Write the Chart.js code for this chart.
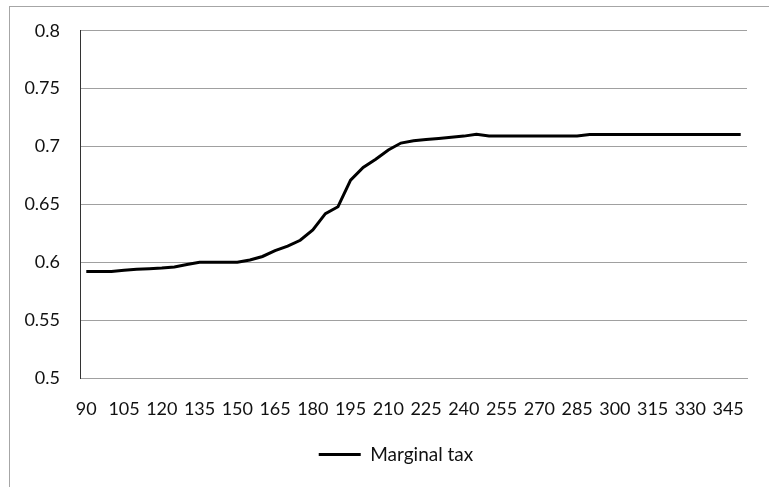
<!DOCTYPE html>
<html>
<head>
<meta charset="utf-8">
<script src="https://cdn.jsdelivr.net/npm/chart.js@4"></script>
<style>
  html, body { margin: 0; padding: 0; background: #fff; overflow: hidden; }
  #wrap { position: relative; width: 769px; height: 487px; }
  #frame { position: absolute; left: 9px; top: 6px; width: 800px; height: 600px; border: 1px solid #a6a6a6; }
  #chart { position: absolute; left: 0; top: 0; }
</style>
</head>
<body>
<div id="wrap">
  <div id="frame"></div>
  <canvas id="chart" width="769" height="487"></canvas>
</div>
<script>
// income levels, every 5 from 90 to 350
const incomes = [
  90, 95, 100, 105, 110, 115, 120, 125, 130, 135,
  140, 145, 150, 155, 160, 165, 170, 175, 180, 185,
  190, 195, 200, 205, 210, 215, 220, 225, 230, 235,
  240, 245, 250, 255, 260, 265, 270, 275, 280, 285,
  290, 295, 300, 305, 310, 315, 320, 325, 330, 335,
  340, 345, 350
];

const marginalTax = [
  0.592, 0.592, 0.592, 0.593, 0.594, 0.5945, 0.595, 0.596, 0.598, 0.600,
  0.600, 0.600, 0.600, 0.602, 0.605, 0.610, 0.614, 0.619, 0.628, 0.642,
  0.648, 0.671, 0.682, 0.689, 0.697, 0.703, 0.705, 0.706, 0.707, 0.708,
  0.709, 0.7105, 0.7092, 0.7092, 0.7092, 0.7092, 0.7092, 0.7092, 0.7092, 0.7092,
  0.7103, 0.7105, 0.7105, 0.7105, 0.7105, 0.7105, 0.7105, 0.7105, 0.7105, 0.7105,
  0.7105, 0.7105, 0.7105
];

const yTicks = [0.5, 0.55, 0.6, 0.65, 0.7, 0.75, 0.8];

const font = { family: 'Lato', size: 18 };
const textColor = '#111';
const gridColor = '#a0a0a0';

// the legend is centred under the plot area in the original, not under the whole canvas
const legendShift = {
  id: 'legendShift',
  afterLayout(chart) {
    chart.legend.left += 45;
    chart.legend.width = chart.legend.right - chart.legend.left;
  }
};

const data = {
  labels: incomes,
  datasets: [{
    label: 'Marginal tax',
    data: marginalTax,
    borderColor: '#000',
    backgroundColor: '#000',
    borderWidth: 3,
    pointRadius: 0,
    tension: 0
  }]
};

const config = {
  type: 'line',
  data: data,
  plugins: [legendShift],
  options: {
    responsive: false,
    animation: false,
    layout: { padding: { top: 29, right: 22, bottom: 13, left: 0 } },
    plugins: {
      tooltip: { enabled: false },
      legend: {
        position: 'bottom',
        labels: {
          usePointStyle: true,
          pointStyle: 'line',
          pointStyleWidth: 42,
          color: textColor,
          font: { family: 'Lato', size: 19 },
          padding: 10
        }
      }
    },
    scales: {
      x: {
        offset: true,
        grid: { display: false, drawTicks: false },
        border: { color: gridColor, width: 1 },
        afterFit: (scale) => { scale.height = 57; },
        ticks: {
          autoSkip: false,
          maxRotation: 0,
          padding: 20,
          color: textColor,
          font: font,
          callback: function (value, index) {
            return index % 3 === 0 ? this.getLabelForValue(value) : '';
          }
        }
      },
      y: {
        min: 0.5,
        max: 0.8,
        afterFit: (scale) => { scale.width = 80; },
        afterBuildTicks: (scale) => { scale.ticks = yTicks.map(v => ({ value: v })); },
        grid: { color: gridColor, drawTicks: false, lineWidth: 1 },
        border: { color: '#333', width: 1 },
        ticks: {
          padding: 20,
          color: textColor,
          font: font,
          callback: (v) => String(Math.round(v * 100) / 100)
        }
      }
    }
  }
};

const myChart = new Chart(document.getElementById('chart'), config);
</script>
</body>
</html>
